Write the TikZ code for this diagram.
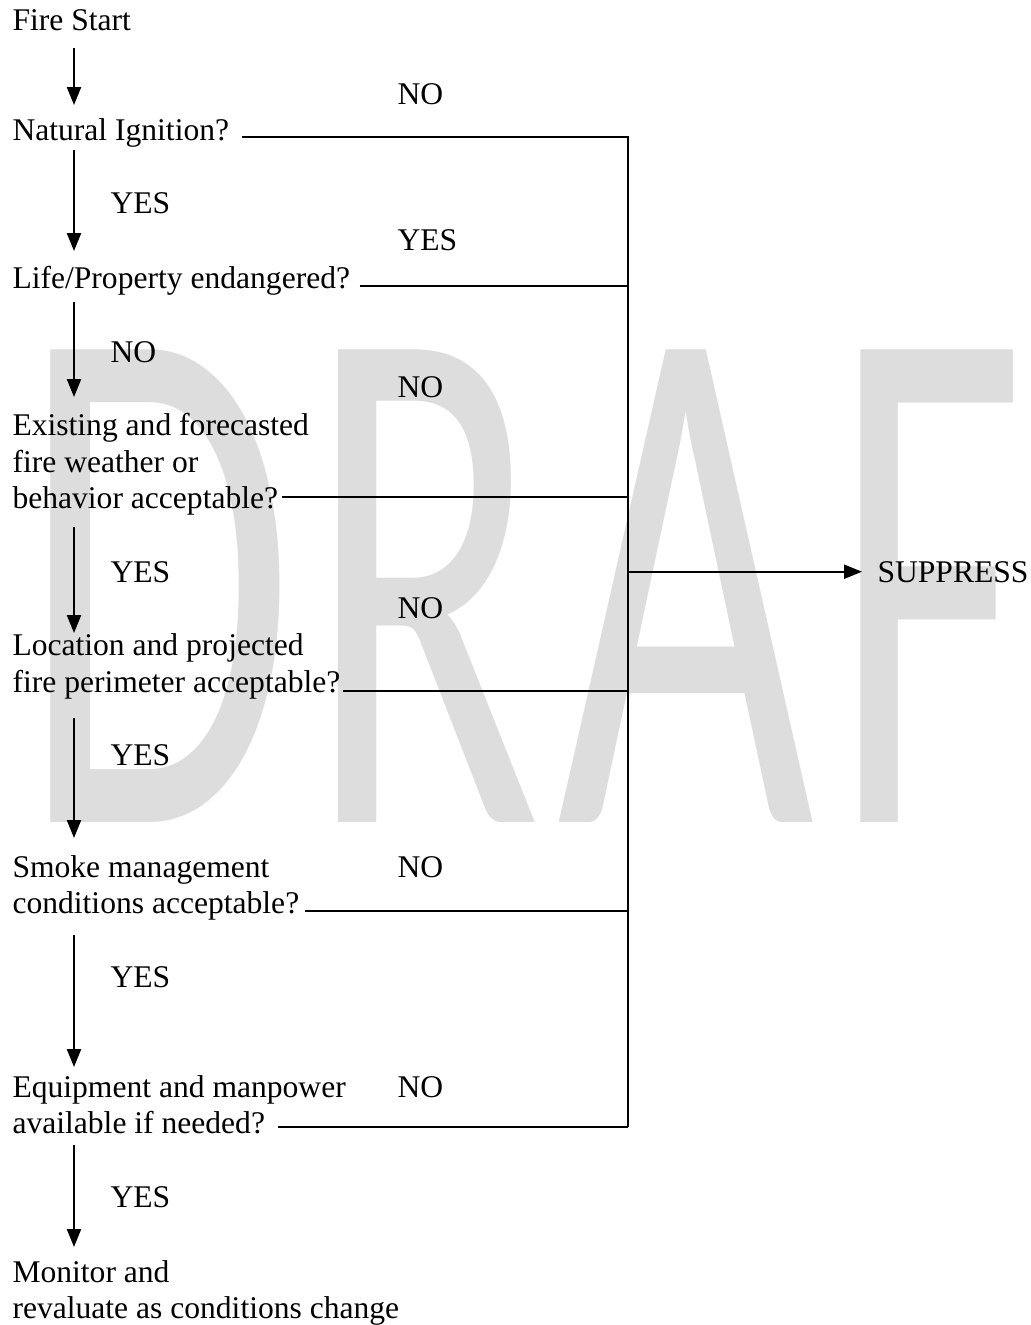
\documentclass[tikz,border=0pt]{standalone}
\usepackage{fontspec}
\setmainfont{Liberation Serif}
\newfontfamily\wmfont{Carlito}
\usetikzlibrary{arrows.meta,calc}

\definecolor{wmgray}{RGB}{221,221,221}

\tikzset{
  txt/.style={inner sep=0pt, anchor=base west, font=\fontsize{12}{14}\selectfont},
  arr/.style={-{Triangle[length=6.8pt,width=5.3pt]}, line width=0.8pt},
  rule/.style={line width=0.8pt},
  wm/.style={text=wmgray, inner sep=0pt, anchor=base west, font=\wmfont\fontsize{280}{280}\selectfont}
}

\begin{document}
\begin{tikzpicture}[x=0.38pt,y=-0.38pt]
\useasboundingbox (0,0) rectangle (1031,1325);

% watermark
\begin{scope}
\clip (0,0) rectangle (1031,1325);
\node[wm] (wmD) at (20,822) {\scalebox{0.605}[1]{D}};
\node[wm] (wmR) at (307,822) {\scalebox{0.585}[1]{R}};
\node[wm] (wmA) at (557,822) {\scalebox{0.603}[1]{A}};
\node[wm] (wmF) at (832,822) {\scalebox{0.57}[1]{F}};
\end{scope}

% questions
\node[txt] (fire) at (12,30) {Fire Start};
\node[txt] (nat) at (12,140) {Natural Ignition?};
\node[txt] (life) at (12,288) {Life/Property endangered?};
\node[txt] (ex1) at (12,435) {Existing and forecasted};
\node[txt] (ex2) at (12,472) {fire weather or};
\node[txt] (ex3) at (12,508) {behavior acceptable?};
\node[txt] (loc1) at (12,655) {Location and projected};
\node[txt] (loc2) at (12,692) {fire perimeter acceptable?};
\node[txt] (sm1) at (12,877) {Smoke management};
\node[txt] (sm2) at (12,913) {conditions acceptable?};
\node[txt] (eq1) at (12,1097) {Equipment and manpower};
\node[txt] (eq2) at (12,1133) {available if needed?};
\node[txt] (mon1) at (12,1282) {Monitor and};
\node[txt] (mon2) at (12,1318) {revaluate as conditions change};

\node[txt, inner xsep=5.7pt] (sup) at (862,582) {SUPPRESS};

% answers
\node[txt] (yes1) at (110,213) {YES};
\node[txt] (no2) at (110,362) {NO};
\node[txt] (yes3) at (110,582) {YES};
\node[txt] (yes4) at (110,765) {YES};
\node[txt] (yes5) at (110,987) {YES};
\node[txt] (yes6) at (110,1207) {YES};

\node[txt] (noA) at (397,104) {NO};
\node[txt] (yesB) at (397,250) {YES};
\node[txt] (noC) at (397,397) {NO};
\node[txt] (noD) at (397,618) {NO};
\node[txt] (noE) at (397,877) {NO};
\node[txt] (noF) at (397,1097) {NO};

\coordinate (bus) at (628,137);
\coordinate (busend) at (628,1127);

% down arrows
\draw[arr] ($(fire.base west)+(62,18)$) -- ($(nat.base west)+(62,-35)$);
\draw[arr] ($(nat.base west)+(62,10)$) -- ($(life.base west)+(62,-37)$);
\draw[arr] ($(life.base west)+(62,14)$) -- ($(ex1.base west)+(62,-38)$);
\draw[arr] ($(ex3.base west)+(62,19)$) -- ($(loc1.base west)+(62,-22)$);
\draw[arr] ($(loc2.base west)+(62,26)$) -- ($(sm1.base west)+(62,-39)$);
\draw[arr] ($(sm2.base west)+(62,22)$) -- ($(eq1.base west)+(62,-30)$);
\draw[arr] ($(eq2.base west)+(62,12)$) -- ($(mon1.base west)+(62,-35)$);

% lines to the right
\draw[rule] ($(nat.base east)+(12,-3)$) -| (busend);
\draw[rule] ($(life.base east)+(9,-2)$) coordinate (lifeR) -- (lifeR -| bus);
\draw[rule] ($(ex3.base east)+(3,-11)$) coordinate (exR) -- (exR -| bus);
\draw[rule] ($(loc2.base east)+(2,-1)$) coordinate (locR) -- (locR -| bus);
\draw[rule] ($(sm2.base east)+(5,-2)$) coordinate (smR) -- (smR -| bus);
\draw[rule] ($(eq2.base east)+(12,-6)$) -- (busend);

\draw[arr] (sup.west -| bus) -- (sup);
\end{tikzpicture}
\end{document}
